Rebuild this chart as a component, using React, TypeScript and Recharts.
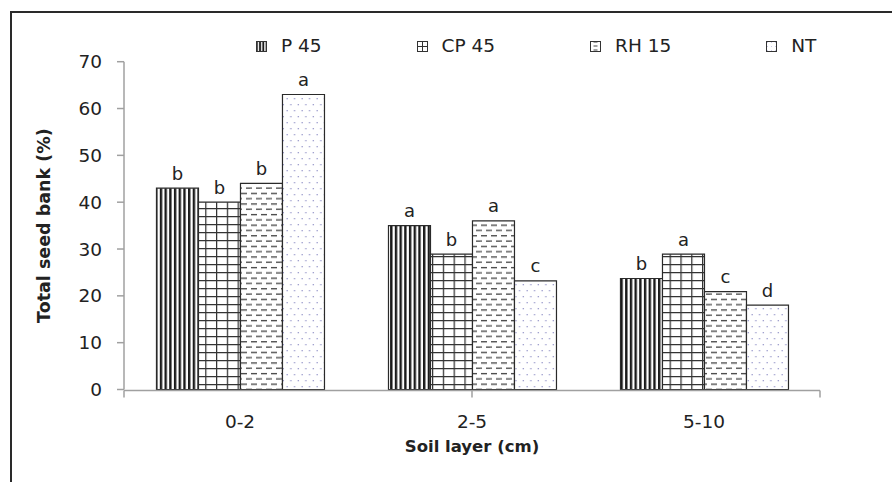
import React from 'react';
import { BarChart, Bar, XAxis, YAxis, Legend, LabelList, Label } from 'recharts';

const layers = ['0-2', '2-5', '5-10'];
const seriesNames = ['P 45', 'CP 45', 'RH 15', 'NT'];
const p45 = [43, 35, 23.7];
const cp45 = [40, 28.9, 28.9];
const rh15 = [44, 36, 20.9];
const nt = [63, 23.2, 18];
const p45Letters = ['b', 'a', 'b'];
const cp45Letters = ['b', 'b', 'a'];
const rh15Letters = ['b', 'a', 'c'];
const ntLetters = ['a', 'c', 'd'];
const yTicks = [0, 10, 20, 30, 40, 50, 60, 70];
const boundaryTicks = [0, 1, 2, 3];

const data = layers.map((layer, i) => ({
  layer,
  p45: p45[i],
  cp45: cp45[i],
  rh15: rh15[i],
  nt: nt[i],
  p45L: p45Letters[i],
  cp45L: cp45Letters[i],
  rh15L: rh15Letters[i],
  ntL: ntLetters[i],
}));

const series = [
  { key: 'p45', name: seriesNames[0], fill: 'url(#patP45)', icon: 'url(#icoP45)' },
  { key: 'cp45', name: seriesNames[1], fill: 'url(#patCP45)', icon: 'url(#icoCP45)' },
  { key: 'rh15', name: seriesNames[2], fill: 'url(#patRH15)', icon: 'url(#icoRH15)' },
  { key: 'nt', name: seriesNames[3], fill: 'url(#patNT)', icon: 'url(#icoNT)' },
];

const FONT = '"DejaVu Sans", "Liberation Sans", Arial, sans-serif';

const letterLabel = (props: any) => {
  const vb = props.viewBox || props;
  const x = vb.x ?? props.x;
  const y = vb.y ?? props.y;
  const w = vb.width ?? props.width;
  return (
    <text
      x={x + w / 2}
      y={y - 15}
      textAnchor="middle"
      dominantBaseline="central"
      fontSize={18}
      fill="#222"
      fontFamily={FONT}
    >
      {props.value}
    </text>
  );
};

const renderLegend = () => (
  <div
    style={{
      display: 'flex',
      alignItems: 'center',
      marginLeft: 256,
      gap: 95,
      fontFamily: FONT,
      fontSize: 18.5,
      color: '#222',
      lineHeight: '22px',
    }}
  >
    <svg width={0} height={0} style={{ position: 'absolute' }}>
      <defs>
        <pattern id="icoP45" patternUnits="userSpaceOnUse" width={3.2} height={10}>
          <rect width={3.2} height={10} fill="#fff" />
          <rect x={0} y={0} width={1.8} height={10} fill="#1a1a1a" />
        </pattern>
        <pattern id="icoCP45" patternUnits="userSpaceOnUse" width={5} height={5}>
          <rect width={5} height={5} fill="#fff" />
          <line x1={0.5} y1={0} x2={0.5} y2={5} stroke="#333" strokeWidth={1} />
          <line x1={0} y1={0.5} x2={5} y2={0.5} stroke="#333" strokeWidth={1} />
        </pattern>
        <pattern id="icoRH15" patternUnits="userSpaceOnUse" width={11} height={4}>
          <rect width={11} height={4} fill="#fff" />
          <line x1={3.5} y1={1} x2={7.5} y2={1} stroke="#444" strokeWidth={1} />
        </pattern>
        <pattern id="icoNT" patternUnits="userSpaceOnUse" width={4} height={4}>
          <rect width={4} height={4} fill="#fff" />
          <rect x={1} y={1} width={0.8} height={0.8} fill="#b0b0d8" />
        </pattern>
      </defs>
    </svg>
    {series.map((s) => (
      <div key={s.key} style={{ display: 'flex', alignItems: 'center' }}>
        <svg width={11} height={11} style={{ marginRight: 14 }}>
          <rect x={0.5} y={0.5} width={10} height={10} fill={s.icon} stroke="#333" strokeWidth={1} />
        </svg>
        <span>{s.name}</span>
      </div>
    ))}
  </div>
);

export default function App() {
  return (
    <div style={{ position: 'absolute', left: 0, top: 0, width: 892, height: 482, background: '#fff', fontFamily: FONT }}>
      <div
        style={{
          position: 'absolute',
          left: 10,
          top: 11,
          width: 900,
          height: 480,
          borderLeft: '2.5px solid #2a2a2a',
          borderTop: '2.5px solid #2a2a2a',
          boxSizing: 'border-box',
        }}
      />
      <div style={{ position: 'absolute', left: 0, top: 0 }}>
        <BarChart
          width={892}
          height={482}
          data={data}
          margin={{ top: 61.7, right: 72, bottom: 90.5, left: 24 }}
          barCategoryGap="14%"
          barGap={0}
        >
          <defs>
            <pattern id="patP45" patternUnits="userSpaceOnUse" width={4.7} height={10}>
              <rect width={4.7} height={10} fill="#fff" />
              <rect x={0} y={0} width={2.4} height={10} fill="#1a1a1a" />
            </pattern>
            <pattern id="patCP45" patternUnits="userSpaceOnUse" width={10.8} height={8}>
              <rect width={10.8} height={8} fill="#fff" />
              <line x1={0.6} y1={0} x2={0.6} y2={8} stroke="#333" strokeWidth={1.3} />
              <line x1={0} y1={0.6} x2={10.8} y2={0.6} stroke="#333" strokeWidth={1.3} />
            </pattern>
            <pattern id="patRH15" patternUnits="userSpaceOnUse" width={10} height={10.6}>
              <rect width={10} height={10.6} fill="#fff" />
              <line x1={1} y1={2.6} x2={7} y2={2.6} stroke="#444" strokeWidth={1.3} />
              <line x1={6} y1={7.9} x2={10} y2={7.9} stroke="#444" strokeWidth={1.3} />
              <line x1={0} y1={7.9} x2={2} y2={7.9} stroke="#444" strokeWidth={1.3} />
            </pattern>
            <pattern id="patNT" patternUnits="userSpaceOnUse" width={7.5} height={12}>
              <rect width={7.5} height={12} fill="#fff" />
              <rect x={1.5} y={2} width={1.3} height={1.3} fill="#9a9acc" />
              <rect x={5.25} y={8} width={1.3} height={1.3} fill="#9a9acc" />
            </pattern>
          </defs>
          <XAxis
            dataKey="layer"
            height={1}
            axisLine={false}
            tickLine={false}
            tickMargin={19}
            tick={{ fontSize: 18.5, fill: '#222' }}
          >
            <Label
              content={(props: any) => {
                const vb = props.viewBox;
                return (
                  <text
                    x={vb.x + vb.width / 2}
                    y={vb.y + 57}
                    textAnchor="middle"
                    dominantBaseline="central"
                    fontSize={16.5}
                    fontWeight="bold"
                    fill="#222"
                    fontFamily={FONT}
                  >
                    Soil layer (cm)
                  </text>
                );
              }}
            />
          </XAxis>
          <XAxis
            xAxisId="bounds"
            type="number"
            domain={[0, 3]}
            ticks={boundaryTicks}
            height={1}
            tickSize={7}
            tick={() => <g />}
            axisLine={{ stroke: '#a0a0a0', strokeWidth: 1.5 }}
            tickLine={{ stroke: '#a0a0a0', strokeWidth: 1.5 }}
          />
          <YAxis
            width={100}
            domain={[0, 70]}
            ticks={yTicks}
            interval={0}
            tickSize={7}
            tickMargin={15}
            tick={{ fontSize: 18.5, fill: '#222' }}
            axisLine={{ stroke: '#a0a0a0', strokeWidth: 1.5 }}
            tickLine={{ stroke: '#a0a0a0', strokeWidth: 1.5 }}
          >
            <Label
              content={(props: any) => {
                const vb = props.viewBox;
                const cx = vb.x + 20;
                const cy = vb.y + vb.height / 2;
                return (
                  <text
                    x={cx}
                    y={cy}
                    transform={`rotate(-90 ${cx} ${cy})`}
                    textAnchor="middle"
                    dominantBaseline="central"
                    fontSize={17.5}
                    fontWeight="bold"
                    fill="#222"
                    fontFamily={FONT}
                  >
                    Total seed bank (%)
                  </text>
                );
              }}
            />
          </YAxis>
          <Legend
            layout="horizontal"
            verticalAlign="middle"
            align="center"
            content={renderLegend}
            wrapperStyle={{ top: 35, left: 0, width: 892 }}
          />
          {series.map((s) => (
            <Bar
              key={s.key}
              dataKey={s.key}
              name={s.name}
              fill={s.fill}
              stroke="#2a2a2a"
              strokeWidth={1.2}
              isAnimationActive={false}
            >
              <LabelList dataKey={`${s.key}L`} content={letterLabel} />
            </Bar>
          ))}
        </BarChart>
      </div>
    </div>
  );
}
